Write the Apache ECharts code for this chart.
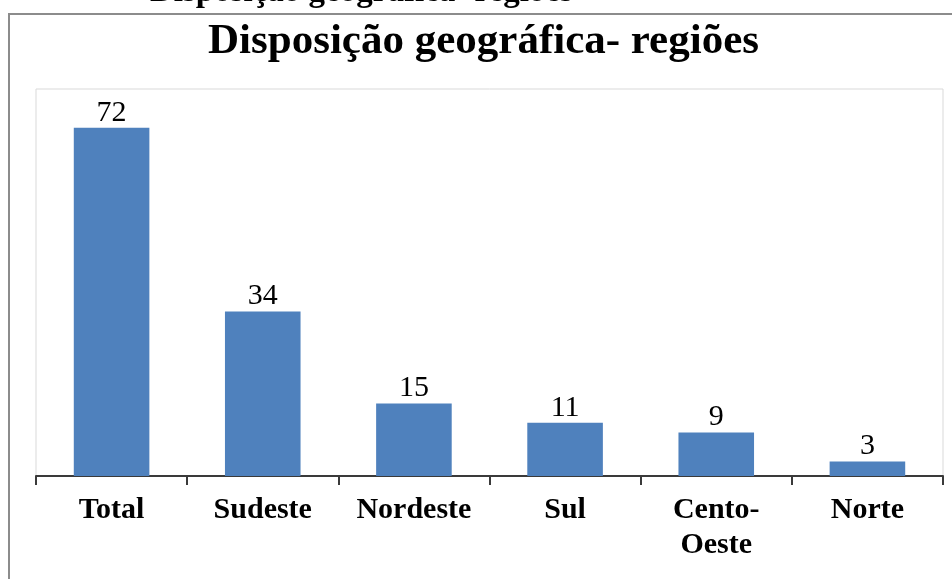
<!DOCTYPE html>
<html>
<head>
<meta charset="utf-8">
<script src="https://cdn.jsdelivr.net/npm/echarts@6/dist/echarts.min.js"></script>
<style>
  html, body { margin: 0; padding: 0; background: #ffffff; }
  #chart { width: 952px; height: 579px; }
</style>
</head>
<body>
<div id="chart"></div>
<script>
// Regions and respondent counts
const categories = ['Total', 'Sudeste', 'Nordeste', 'Sul', 'Cento-\nOeste', 'Norte'];
const counts = [72, 34, 15, 11, 9, 3];
const chartTitle = 'Disposição geográfica- regiões';
const captionText = 'Disposição geográfica- regiões';

const serif = '"Liberation Serif", "Times New Roman", "DejaVu Serif", serif';

const chart = echarts.init(document.getElementById('chart'));
chart.setOption({
  animation: false,
  backgroundColor: '#ffffff',
  grid: {
    left: 36, right: 9, top: 89, bottom: 103,
    show: true, borderColor: '#d9d9d9', borderWidth: 1
  },
  xAxis: {
    type: 'category',
    data: categories,
    boundaryGap: true,
    axisLine: { show: true, lineStyle: { color: '#3a3a3a', width: 2 } },
    axisTick: { show: true, length: 9, alignWithLabel: false, lineStyle: { color: '#3a3a3a', width: 2 } },
    axisLabel: {
      interval: 0,
      margin: 17,
      color: '#000000',
      fontFamily: serif,
      fontWeight: 'bold',
      fontSize: 30,
      lineHeight: 35
    }
  },
  yAxis: {
    type: 'value',
    min: 0, max: 80,
    show: false,
    splitLine: { show: false }
  },
  series: [{
    type: 'bar',
    data: counts,
    barWidth: '50%',
    itemStyle: { color: '#4F81BD' },
    label: {
      show: true,
      position: 'top',
      distance: 0,
      color: '#000000',
      fontFamily: serif,
      fontSize: 30
    }
  }],
  graphic: [
    {
      type: 'rect',
      shape: { x: 9, y: 14, width: 1000, height: 1000 },
      style: { fill: 'none', stroke: '#8c8c8c', lineWidth: 2 },
      silent: true
    },
    {
      type: 'text',
      x: 150, y: -8,
      style: {
        text: captionText,
        font: 'bold 33px ' + serif,
        fill: '#000000',
        textAlign: 'left',
        textVerticalAlign: 'middle'
      },
      silent: true
    },
    {
      type: 'text',
      x: 483.5, y: 42,
      style: {
        text: chartTitle,
        font: 'bold 43px ' + serif,
        fill: '#000000',
        textAlign: 'center',
        textVerticalAlign: 'middle'
      },
      silent: true
    }
  ]
});
</script>
</body>
</html>
